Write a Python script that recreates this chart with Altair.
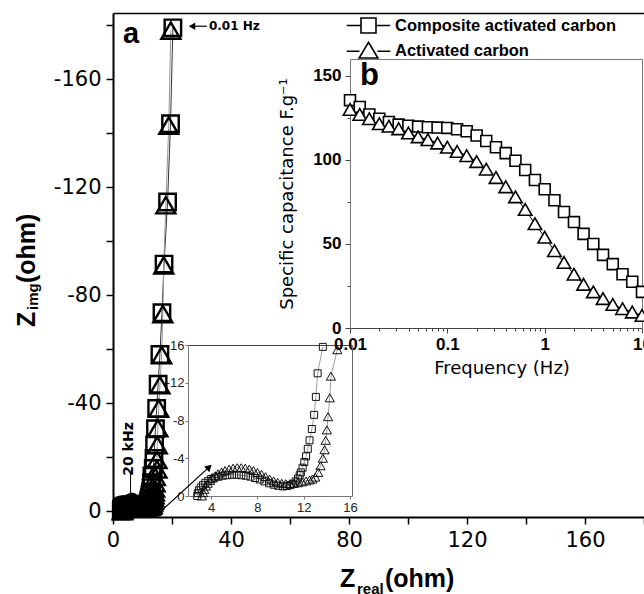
import altair as alt
import pandas as pd

SERIES = ["Composite activated carbon", "Activated carbon"]

# ---- Panel a: Nyquist plot (Z_real, -Z_img), high -> low frequency ----
comp_zre = [2.8, 2.85, 2.95, 3.1, 3.3, 3.5, 3.75, 4.0, 4.3, 4.65,
            5.0, 5.4, 5.8, 6.2, 6.6, 7.0, 7.4, 7.8, 8.2, 8.6,
            9.0, 9.4, 9.8, 10.2, 10.55, 10.85, 11.1, 11.3, 11.5, 11.65,
            11.75, 11.9, 12.05, 12.2, 12.35, 12.5, 12.7, 12.9, 13.05, 13.2,
            13.65, 13.9, 14.1, 14.4, 14.8, 15.3, 15.9, 16.6, 17.3, 18.5,
            19.5, 20.3]
comp_zim = [0.0, 0.3, 0.6, 0.9, 1.15, 1.4, 1.6, 1.8, 1.95, 2.05,
            2.15, 2.2, 2.25, 2.25, 2.2, 2.15, 2.05, 1.9, 1.75, 1.55,
            1.35, 1.2, 1.08, 1.02, 1.05, 1.15, 1.3, 1.55, 1.85, 2.2,
            2.5, 3.0, 3.6, 4.2, 5.0, 5.9, 7.1, 8.6, 10.5, 13.0,
            15.8, 19.5, 24.5, 30.5, 38.0, 47.0, 58.0, 73.5, 91.5, 114.5,
            143.5, 179.0]
act_zre = [3.2, 3.3, 3.4, 3.55, 3.7, 3.9, 4.1, 4.35, 4.6, 4.9,
           5.2, 5.55, 5.9, 6.25, 6.6, 6.95, 7.3, 7.65, 8.0, 8.35,
           8.7, 9.05, 9.4, 9.75, 10.1, 10.45, 10.8, 11.15, 11.5, 11.85,
           12.2, 12.5, 12.75, 13.0, 13.25, 13.45, 13.65, 13.8, 13.9, 14.0,
           14.1, 14.25, 14.35, 14.9, 14.9, 15.0, 15.2, 15.5, 15.9, 16.5,
           16.9, 17.2, 17.9, 18.9, 19.6]
act_zim = [0.0, 0.35, 0.7, 1.05, 1.35, 1.65, 1.9, 2.15, 2.35, 2.55,
           2.7, 2.85, 2.95, 3.0, 3.0, 2.95, 2.85, 2.7, 2.5, 2.3,
           2.05, 1.8, 1.6, 1.45, 1.35, 1.3, 1.3, 1.35, 1.4, 1.5,
           1.6, 1.7, 1.8, 2.0, 2.5, 3.2, 4.0, 4.9, 5.9, 7.0,
           8.4, 10.4, 12.7, 15.5, 19.0, 24.4, 30.7, 38.0, 46.7, 57.8,
           73.0, 91.0, 113.3, 142.8, 178.0]

# ---- Panel b: specific capacitance vs frequency ----
freq = [0.01, 0.0126, 0.0158, 0.02, 0.0251, 0.0316, 0.0398, 0.0501, 0.0631, 0.0794,
        0.1, 0.126, 0.158, 0.2, 0.251, 0.316, 0.398, 0.501, 0.631, 0.794,
        1.0, 1.26, 1.58, 2.0, 2.51, 3.16, 3.98, 5.01, 6.31, 7.94, 10.0]
comp_cap = [135.5, 131.5, 127.0, 124.5, 122.5, 121.0, 120.3, 119.8, 119.4, 119.2,
            119.0, 118.2, 117.0, 114.5, 111.2, 107.5, 104.0, 99.5, 94.0, 88.0,
            82.5, 76.0, 69.0, 63.0, 56.0, 50.0, 43.5, 38.0, 32.0, 27.5, 21.5]
act_cap = [130.0, 127.0, 124.5, 121.5, 120.0, 118.5, 116.0, 113.7, 112.0, 110.0,
           107.5, 105.0, 102.5, 99.0, 94.5, 89.5, 84.0, 78.0, 70.5, 62.0,
           54.0, 46.0, 39.0, 32.0, 26.0, 21.5, 17.5, 14.0, 11.5, 9.5, 7.5]

nyq = pd.concat([
    pd.DataFrame({"zre": comp_zre, "zim": comp_zim, "series": SERIES[0]}),
    pd.DataFrame({"zre": act_zre, "zim": act_zim, "series": SERIES[1]}),
], ignore_index=True)
nyq["idx"] = range(len(nyq))
cap = pd.concat([
    pd.DataFrame({"freq": freq, "cap": comp_cap, "series": SERIES[0]}),
    pd.DataFrame({"freq": freq, "cap": act_cap, "series": SERIES[1]}),
], ignore_index=True)

W, H = 531, 504

# scales
mx = alt.Scale(domain=[0, 180], nice=False, zero=False)
my = alt.Scale(domain=[-2.2, 184.5], nice=False, zero=False)
cx = alt.Scale(domain=[2, 16.17], range=[75, 239], nice=False, zero=False)
cy = alt.Scale(domain=[0, 16], range=[483, 332], nice=False, zero=False)
bx = alt.Scale(type="log", domain=[0.01, 10], range=[237, 529], nice=False)
by = alt.Scale(domain=[0, 160], range=[315, 46], nice=False, zero=False)

def border(orient, offset=0, color="black", width=1.5):
    return alt.Axis(orient=orient, offset=offset, labels=False, ticks=False, title=None,
                    domainColor=color, domainWidth=width, grid=False)

sqdf = nyq[nyq.series == SERIES[0]]
trdf = nyq[nyq.series == SERIES[1]]
bsq = cap[cap.series == SERIES[0]]
btr = cap[cap.series == SERIES[1]]

# ---------------- main panel a ----------------
main_line = alt.Chart(nyq).mark_line(strokeWidth=1).encode(
    x=alt.X("zre:Q", scale=mx, axis=border("top")),
    y=alt.Y("zim:Q", scale=my, axis=None),
    stroke=alt.Stroke("series:N", scale=alt.Scale(domain=SERIES, range=["#333333", "#999999"]), legend=None),
    order=alt.Order("idx:Q"),
    detail="series:N",
)
main_x_axis = alt.Axis(orient="bottom", values=list(range(0, 181, 20)),
                       labelExpr="datum.value % 40 == 0 ? datum.label : ''",
                       title=None, tickSize=7, tickWidth=1.5, domainWidth=2, domainColor="black",
                       tickColor="black", labelFont="DejaVu Sans", labelFontSize=21, labelColor="black",
                       labelPadding=5, labelFlush=False, labelOverlap=False, grid=False)
main_y_axis = alt.Axis(orient="left", values=list(range(0, 181, 20)),
                       labelExpr="datum.value % 40 != 0 ? '' : (datum.value == 0 ? '0' : '-' + datum.label)",
                       title=None, tickSize=7, tickWidth=1.5, domainWidth=2, domainColor="black",
                       tickColor="black", labelFont="DejaVu Sans", labelFontSize=21, labelColor="black",
                       labelPadding=5, labelFlush=False, labelOverlap=False, grid=False)
main_sq = alt.Chart(sqdf).mark_point(shape="square", size=270, strokeWidth=2.4, color="black",
                                     opacity=1, filled=False).encode(
    x=alt.X("zre:Q", scale=mx, axis=main_x_axis),
    y=alt.Y("zim:Q", scale=my, axis=main_y_axis),
)
main_tr = alt.Chart(trdf).mark_point(shape="triangle-up", size=360, strokeWidth=2.4, color="black",
                                     opacity=1, filled=False).encode(
    x=alt.X("zre:Q", scale=mx, axis=None),
    y=alt.Y("zim:Q", scale=my, axis=None),
)

# ---------------- inset (zoom of a) ----------------
cfilter = "datum.zre <= 16.2 && datum.zim <= 16.5"
c_line = alt.Chart(nyq).transform_filter(cfilter).mark_line(strokeWidth=0.8, color="#888888").encode(
    x=alt.X("zre:Q", scale=cx, axis=border("top", offset=-332, color="#444444", width=1)),
    y=alt.Y("zim:Q", scale=cy, axis=border("right", offset=-292, color="#666666", width=1)),
    order=alt.Order("idx:Q"),
    detail="series:N",
)
c_x_axis = alt.Axis(orient="bottom", offset=-21, values=[4, 8, 12, 16], title=None,
                    tickSize=3, domainColor="#777777", tickColor="#777777", domainWidth=1,
                    labelFont="Liberation Sans", labelFontSize=13, labelColor="#222222",
                    labelPadding=2, labelFlush=False, labelOverlap=False, grid=False)
c_y_axis = alt.Axis(orient="left", offset=-75, values=[0, 4, 8, 12, 16], title=None,
                    labelExpr="datum.value == 0 ? '0' : '-' + datum.label",
                    tickSize=3, domainColor="#777777", tickColor="#777777", domainWidth=1,
                    labelFont="Liberation Sans", labelFontSize=13, labelColor="#222222",
                    labelPadding=1, labelFlush=False, labelOverlap=False, grid=False)
c_sq = alt.Chart(sqdf).transform_filter(cfilter).mark_point(
    shape="square", size=49, strokeWidth=1, color="#111111", opacity=1, filled=False).encode(
    x=alt.X("zre:Q", scale=cx, axis=c_x_axis),
    y=alt.Y("zim:Q", scale=cy, axis=c_y_axis),
)
c_tr = alt.Chart(trdf).transform_filter(cfilter).mark_point(
    shape="triangle-up", size=85, strokeWidth=1, color="#111111", opacity=1, filled=False).encode(
    x=alt.X("zre:Q", scale=cx, axis=None),
    y=alt.Y("zim:Q", scale=cy, axis=None),
)

# ---------------- inset panel b ----------------
b_line = alt.Chart(cap).mark_line(strokeWidth=1, color="black").encode(
    x=alt.X("freq:Q", scale=bx, axis=border("top", offset=-46, color="#777777", width=1)),
    y=alt.Y("cap:Q", scale=by, axis=border("right", offset=-2, color="#777777", width=1)),
    detail="series:N",
)
decades = "indexof([0.01, 0.1, 1, 10], datum.value) >= 0"
bx_vals = [0.01, 0.02, 0.03, 0.04, 0.05, 0.06, 0.07, 0.08, 0.09,
           0.1, 0.2, 0.3, 0.4, 0.5, 0.6, 0.7, 0.8, 0.9,
           1, 2, 3, 4, 5, 6, 7, 8, 9, 10]
b_x_axis = alt.Axis(orient="bottom", offset=-189, values=bx_vals, title=None,
                    labelExpr="datum.value == 0.01 ? '0.01' : datum.value == 0.1 ? '0.1' : datum.value == 1 ? '1' : datum.value == 10 ? '10' : ''",
                    tickSize={"condition": {"test": decades, "value": 5}, "value": 3},
                    domainColor="#444444", tickColor="#444444", domainWidth=1,
                    labelFont="Liberation Sans", labelFontSize=17, labelFontWeight="bold",
                    labelColor="black", labelPadding=3, labelFlush=False, labelOverlap=False, grid=False)
b_y_axis = alt.Axis(orient="left", offset=-237, values=list(range(0, 151, 25)), title=None,
                    labelExpr="datum.value % 50 == 0 ? datum.label : ''",
                    tickSize={"condition": {"test": "datum.value % 50 == 0", "value": 5}, "value": 3},
                    domainColor="#777777", tickColor="#444444", domainWidth=1,
                    labelFont="Liberation Sans", labelFontSize=17, labelFontWeight="bold",
                    labelColor="black", labelPadding=4, labelFlush=False, labelOverlap=False, grid=False)
b_sq = alt.Chart(bsq).mark_point(shape="square", size=120, strokeWidth=1.6, stroke="black",
                                 fill="white", fillOpacity=1, opacity=1).encode(
    x=alt.X("freq:Q", scale=bx, axis=b_x_axis),
    y=alt.Y("cap:Q", scale=by, axis=b_y_axis),
)
b_tr = alt.Chart(btr).mark_point(shape="triangle-up", size=180, strokeWidth=1.6, stroke="black",
                                 fill="white", fillOpacity=1, opacity=1).encode(
    x=alt.X("freq:Q", scale=bx, axis=None),
    y=alt.Y("cap:Q", scale=by, axis=None),
)

# legend (symbols with line stubs)
SQ_PATH = "M-2.9,0H-1M1,0H2.9M-1,-1H1V1H-1Z"
TR_PATH = "M-2.9,0.1H-1.2M1.2,0.1H2.9M0,-1.1L1.25,1H-1.25Z"
legend_layer = alt.Chart(cap).mark_point(size=0, opacity=0).encode(
    x=alt.X("freq:Q", scale=bx, axis=None),
    y=alt.Y("cap:Q", scale=by, axis=None),
    shape=alt.Shape("series:N", scale=alt.Scale(domain=SERIES, range=[SQ_PATH, TR_PATH]),
                    legend=alt.Legend(title=None, orient="none", legendX=247, legendY=4,
                                      symbolSize=225, symbolStrokeWidth=1.6,
                                      symbolStrokeColor="black", symbolFillColor="white",
                                      symbolOpacity=1, labelFont="Liberation Sans",
                                      labelFontSize=16.5, labelFontWeight="bold",
                                      labelColor="black", labelOffset=18, rowPadding=2,
                                      padding=0, labelLimit=400)),
)

# ---------------- annotations ----------------
ann_a = alt.Chart(pd.DataFrame({"x": [3.4], "y": [173.3], "t": ["a"]})).mark_text(
    align="left", baseline="alphabetic", font="Liberation Sans", fontSize=29, fontWeight="bold",
    color="black").encode(x=alt.X("x:Q", scale=mx, axis=None), y=alt.Y("y:Q", scale=my, axis=None), text="t:N")
ann_b = alt.Chart(pd.DataFrame({"x": [0.0127], "y": [144.6], "t": ["b"]})).mark_text(
    align="left", baseline="alphabetic", font="Liberation Sans", fontSize=31, fontWeight="bold",
    color="black").encode(x=alt.X("x:Q", scale=bx, axis=None), y=alt.Y("y:Q", scale=by, axis=None), text="t:N")
ann_hz = alt.Chart(pd.DataFrame({"x": [32.5], "y": [179.6], "t": ["0.01 Hz"]})).mark_text(
    align="left", baseline="middle", font="DejaVu Sans", fontSize=12, fontWeight="bold",
    color="black").encode(x=alt.X("x:Q", scale=mx, axis=None), y=alt.Y("y:Q", scale=my, axis=None), text="t:N")
ann_hz_rule = alt.Chart(pd.DataFrame({"x": [27.0], "x2": [31.8], "y": [179.6]})).mark_rule(
    color="black", strokeWidth=1.2).encode(
    x=alt.X("x:Q", scale=mx, axis=None), x2="x2:Q", y=alt.Y("y:Q", scale=my, axis=None))
ann_hz_head = alt.Chart(pd.DataFrame({"x": [26.8], "y": [179.6]})).mark_point(
    shape="triangle-left", size=55, filled=True, color="black", opacity=1).encode(
    x=alt.X("x:Q", scale=mx, axis=None), y=alt.Y("y:Q", scale=my, axis=None))
ann_khz = alt.Chart(pd.DataFrame({"x": [5.4], "y": [23.0], "t": ["20 kHz"]})).mark_text(
    align="center", baseline="middle", angle=270, font="DejaVu Sans", fontSize=14, fontWeight="bold",
    color="black").encode(x=alt.X("x:Q", scale=mx, axis=None), y=alt.Y("y:Q", scale=my, axis=None), text="t:N")
ann_khz_rule = alt.Chart(pd.DataFrame({"x": [5.95], "y": [6.7], "y2": [14.1]})).mark_rule(
    color="black", strokeWidth=1).encode(
    x=alt.X("x:Q", scale=mx, axis=None), y=alt.Y("y:Q", scale=my, axis=None), y2="y2:Q")
arrow_rule = alt.Chart(pd.DataFrame({"x": [15.9], "x2": [32.2], "y": [-0.4], "y2": [15.9]})).mark_rule(
    color="black", strokeWidth=1.2).encode(
    x=alt.X("x:Q", scale=mx, axis=None), x2="x2:Q", y=alt.Y("y:Q", scale=my, axis=None), y2="y2:Q")
arrow_head = alt.Chart(pd.DataFrame({"x": [32.6], "y": [16.3]})).mark_point(
    shape="triangle-up", size=60, angle=47, filled=True, color="black", opacity=1).encode(
    x=alt.X("x:Q", scale=mx, axis=None), y=alt.Y("y:Q", scale=my, axis=None))

# axis titles with subscripts (pixel positions relative to the plot area)
def txt(s, x, y, size, weight="bold", angle=0, align="left", font="Liberation Sans"):
    kw = dict(align=align, baseline="alphabetic", font=font, fontSize=size,
              fontWeight=weight, color="black")
    if angle:
        kw["angle"] = angle
    return alt.Chart(pd.DataFrame({"t": [s]})).mark_text(**kw).encode(
        x=alt.value(x), y=alt.value(y), text="t:N")

titles = [
    txt("Z", 227, 574, 25), txt("real", 244, 581, 15), txt("(ohm)", 272, 574, 25),
    txt("Z", -78, 314, 25, angle=270), txt("img", -75, 297, 15, angle=270), txt("(ohm)", -78, 270, 25, angle=270),
    txt("Frequency (Hz)", 389, 361, 18, weight="normal", align="center", font="DejaVu Sans"),
    txt("Specific capacitance F.g\u207b\u00b9", 180, 181, 18, weight="normal", angle=270,
        align="center", font="DejaVu Sans"),
]

chart = alt.layer(
    main_line, main_sq, main_tr,
    c_line, c_sq, c_tr,
    b_line, b_sq, b_tr, legend_layer,
    ann_a, ann_b, ann_hz, ann_hz_rule, ann_hz_head, ann_khz, ann_khz_rule, arrow_rule, arrow_head,
    *titles,
).resolve_scale(
    x="independent", y="independent", shape="independent", stroke="independent"
).resolve_axis(
    x="independent", y="independent"
).resolve_legend(
    shape="independent", stroke="independent"
).properties(
    width=W, height=H,
    autosize=alt.AutoSizeParams(type="none"),
    padding={"left": 113, "top": 13, "right": 0, "bottom": 77},
    background="white",
).configure_view(stroke=None).configure_axis(grid=False)

chart.save("out.html", embed_options={"renderer": "svg", "actions": False})
